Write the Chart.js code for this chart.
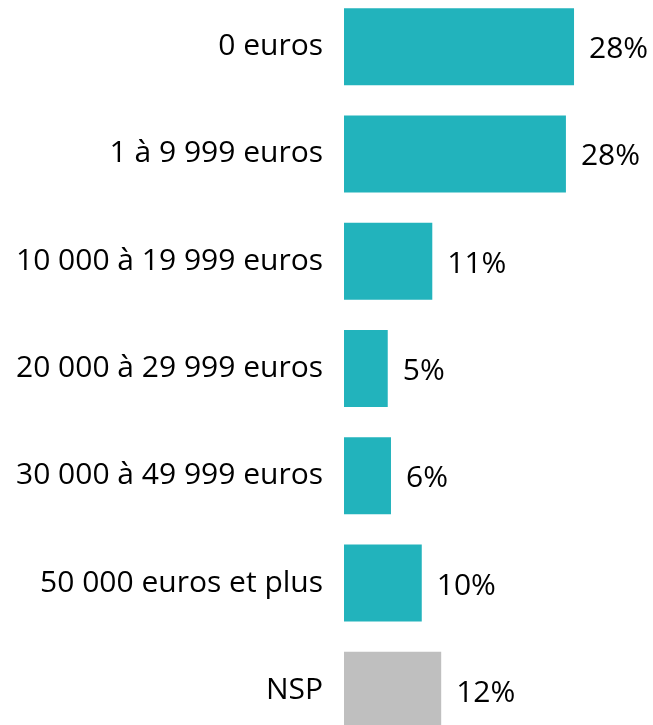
<!DOCTYPE html>
<html>
<head>
<meta charset="utf-8">
<script src="https://cdn.jsdelivr.net/npm/chart.js@4"></script>
<style>
html,body{margin:0;padding:0;background:#fff;overflow:hidden;width:653px;height:725px;}
#c{position:absolute;left:0;top:-7px;}
</style>
</head>
<body>
<canvas id="c" width="653" height="751" style="width:653px;height:751px;"></canvas>
<script>
const categories = ["0 euros","1 à 9 999 euros","10 000 à 19 999 euros","20 000 à 29 999 euros","30 000 à 49 999 euros","50 000 euros et plus","NSP"];
const values = [28.4, 27.4, 10.9, 5.4, 5.8, 9.6, 12.0];
const valueLabels = ["28%","28%","11%","5%","6%","10%","12%"];
const barColors = ["#22B3BC","#22B3BC","#22B3BC","#22B3BC","#22B3BC","#22B3BC","#BFBFBF"];

const FONT = "'Open Sans', 'Noto Sans', sans-serif";

const valueLabelPlugin = {
  id: 'valueLabels',
  afterDatasetsDraw(chart) {
    const ctx = chart.ctx;
    const meta = chart.getDatasetMeta(0);
    ctx.save();
    ctx.font = "30px " + FONT;
    ctx.fillStyle = "#000";
    ctx.textAlign = "left";
    ctx.textBaseline = "middle";
    meta.data.forEach((bar, i) => {
      ctx.fillText(valueLabels[i], bar.x + 15, bar.y + 3);
    });
    ctx.restore();
  }
};

new Chart(document.getElementById('c'), {
  type: 'bar',
  data: {
    labels: categories,
    datasets: [{
      data: values,
      backgroundColor: barColors,
      borderWidth: 0,
      categoryPercentage: 1,
      barPercentage: 0.7177
    }]
  },
  options: {
    indexAxis: 'y',
    responsive: false,
    devicePixelRatio: 1,
    animation: false,
    layout: { padding: 0 },
    plugins: { legend: { display: false }, tooltip: { enabled: false } },
    scales: {
      x: { display: false, min: 0, max: 38.15 },
      y: {
        grid: { display: false, drawTicks: false },
        border: { display: false },
        ticks: { color: "#000", font: { family: FONT, size: 30 }, padding: 21 },
        afterFit(axis) {
          axis.width = 344;
          axis.paddingTop = 0;
          axis.paddingBottom = 0;
        }
      }
    }
  },
  plugins: [valueLabelPlugin]
});
</script>
</body>
</html>
